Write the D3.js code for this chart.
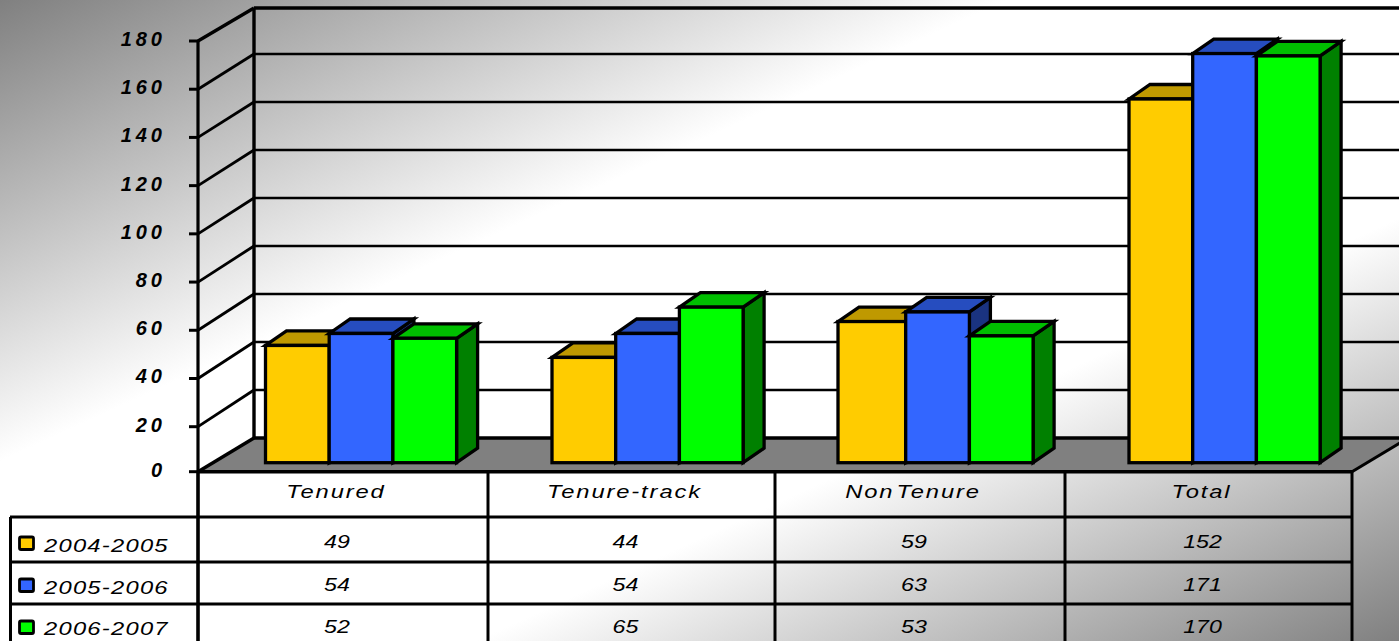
<!DOCTYPE html>
<html><head><meta charset="utf-8">
<script src="https://cdn.jsdelivr.net/npm/d3@7"></script>
<style>html,body{margin:0;padding:0;background:#fff}svg{display:block}text{font-family:"Liberation Sans",Arial,sans-serif;font-style:italic;fill:#000}</style>
</head><body><script>
const categories=["Tenured","Tenure-track","Non Tenure","Total"];
const seriesNames=["2004-2005","2005-2006","2006-2007"];
const values2004=[49,44,59,152];
const values2005=[54,54,63,171];
const values2006=[52,65,53,170];
const faceColors=["#ffcc00","#3366ff","#00ff00"];
const topColors=["#bf9900","#264dbf","#00bf00"];
const sideColors=["#806600","#1a3380","#008000"];
const yTicks=[0,20,40,60,80,100,120,140,160,180];
const columnEdges=[198,488,775,1065,1352];
const rowEdges=[517,562,604];
const groupLefts=[265.5,552,842,1129];
const firstBarExtra=[0,0,4,0];
const W=1399,H=641,bdx=21,bdy=-14.5,barW=63.7;
const series=[values2004,values2005,values2006];

const svg=d3.select("body").append("svg").attr("width",W).attr("height",H);
const grad=svg.append("defs").append("linearGradient").attr("id","bg").attr("x1",0).attr("y1",0).attr("x2",1).attr("y2",1);
[[0,"#808080"],[0.36,"#ffffff"],[0.67,"#ffffff"],[1,"#808080"]].forEach(s=>grad.append("stop").attr("offset",s[0]).attr("stop-color",s[1]));
svg.append("rect").attr("width",W).attr("height",H).attr("fill","url(#bg)");

const yFront=d3.scaleLinear().domain([0,20,180]).range([471.7,426.7,41]);
const yBack=d3.scaleLinear().domain([0,160,180]).range([438,54,8]);
const barY=d3.scaleLinear().domain([0,180]).range([462.7,32]);
const line=(x1,y1,x2,y2,w)=>svg.append("line").attr("x1",x1).attr("y1",y1).attr("x2",x2).attr("y2",y2).attr("stroke","#000").attr("stroke-width",w);
const x0=columnEdges[0],xN=columnEdges[4],xB=254;

// floor
svg.append("path").attr("d",`M${x0},${yFront(0)}L${xB},${yBack(0)}L${W},${yBack(0)}L${W},${yFront(0)-27}L${xN},${yFront(0)}Z`).attr("fill","#808080");
// walls and gridlines
yTicks.forEach(t=>{
  const edge=(t===0||t===180);
  line(x0,yFront(t),xB,Math.min(yBack(t),yFront(t)-33),edge?3.4:2.8);
  line(xB,yBack(t),W,yBack(t),edge?3.4:2.7);
  line(x0-9,yFront(t),x0,yFront(t),3);
  svg.append("text").attr("x",166).attr("y",yFront(t)+5).attr("text-anchor","end")
    .attr("font-size",20).attr("font-weight","bold").attr("letter-spacing",4).text(t);
});
line(x0,yFront(180),x0,H,3.2);
line(xB,yBack(180),xB,yBack(0),3.4);
line(xN,yFront(0),W+10,yFront(0)-(W+10-xN)*0.6,3);

// bars
categories.forEach((c,i)=>{
  series.forEach((vals,s)=>{
    const extra=s===0?firstBarExtra[i]:0;
    const x=groupLefts[i]+s*barW-extra, w=barW+extra, t=barY(vals[i]), b=barY(0);
    const g=svg.append("g").attr("stroke","#000").attr("stroke-width",3.3).attr("stroke-linejoin","miter");
    g.append("path").attr("d",`M${x+w},${t}L${x+w+bdx},${t+bdy}L${x+w+bdx},${b+bdy}L${x+w},${b}Z`).attr("fill",sideColors[s]);
    g.append("path").attr("d",`M${x},${t}L${x+bdx},${t+bdy}L${x+w+bdx},${t+bdy}L${x+w},${t}Z`).attr("fill",topColors[s]);
    g.append("rect").attr("x",x).attr("y",t).attr("width",w).attr("height",b-t).attr("fill",faceColors[s]);
  });
});

// data table
line(x0,yFront(0),xN,yFront(0),3.6);
columnEdges.forEach(x=>line(x,yFront(0),x,H,3));
rowEdges.forEach(r=>line(10,r,xN,r,3));
line(10.5,rowEdges[0],10.5,H,3);
const cx=i=>(columnEdges[i]+columnEdges[i+1])/2;
const stretched=(x,yy,anchor,sx)=>svg.append("text").attr("transform",`translate(${x},${yy}) scale(${sx},1)`).attr("text-anchor",anchor).attr("font-size",19);
categories.forEach((c,i)=>{
  stretched(cx(i)-7,497.7,"middle",1.25).attr("letter-spacing",1.5).attr("word-spacing",-5).text(c);
  series.forEach((vals,s)=>{
    stretched(cx(i)-6,[548,590.7,632.7][s],"middle",1.22).text(vals[i]);
  });
});
seriesNames.forEach((n,s)=>{
  svg.append("rect").attr("x",19.5).attr("y",[537,579,621][s]).attr("width",14).attr("height",12.5).attr("rx",1.5).attr("fill",faceColors[s]).attr("stroke","#000").attr("stroke-width",2.8);
  stretched(44,[551.7,593.5,635][s],"start",1.25).attr("letter-spacing",1).text(n);
});
</script></body></html>
